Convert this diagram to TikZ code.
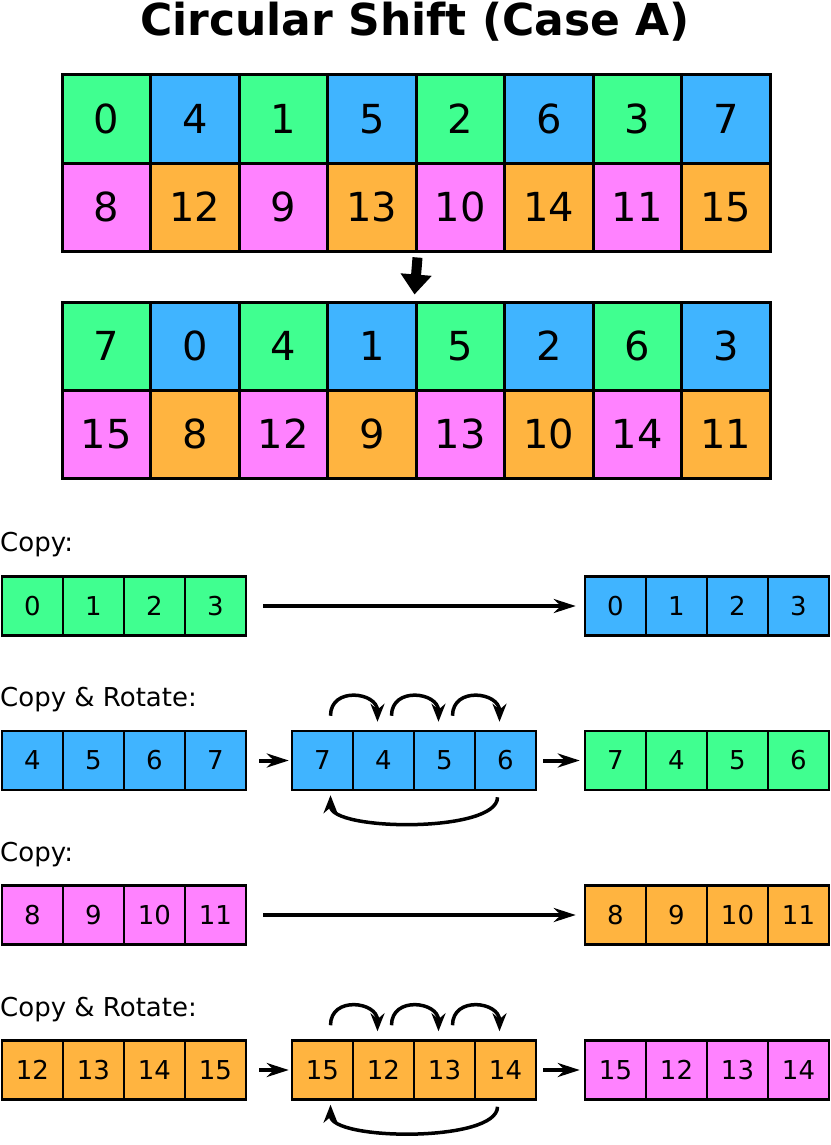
\documentclass[tikz,border=0pt]{standalone}
\usepackage{fontspec}
\setmainfont{DejaVu Sans}
\usetikzlibrary{positioning,arrows.meta,calc}
\definecolor{cgreen}{RGB}{64,255,144}
\definecolor{cblue}{RGB}{64,180,255}
\definecolor{cpink}{RGB}{255,130,255}
\definecolor{corange}{RGB}{255,180,64}
\tikzset{
  cell/.style={draw,line width=3pt,minimum width=88.5pt,minimum height=88pt,inner sep=0pt,font=\fontsize{40}{40}\selectfont},
  scell/.style={draw,line width=2.5pt,minimum width=61pt,minimum height=59pt,inner sep=0pt,font=\fontsize{26}{26}\selectfont},
  lbl/.style={anchor=west,inner sep=0pt,font=\fontsize{26}{26}\selectfont},
  flow/.style={line width=4pt,-{Stealth[length=22pt,width=14pt]}},
  spin/.style={line width=3.5pt,-{Stealth[length=18pt,width=14pt]}}
}
\begin{document}
\begin{tikzpicture}[x=1pt,y=-1pt]
\useasboundingbox (0,0) rectangle (830,1145);
\node[font=\fontsize{44}{44}\selectfont\bfseries] (title) at (415,22) {Circular Shift (Case A)};

% big grids
\foreach \v/\c [count=\i] in {0/cgreen,4/cblue,1/cgreen,5/cblue,2/cgreen,6/cblue,3/cgreen,7/cblue}
  \node[cell,fill=\c] (a\i) at ({62+88.5*(\i-0.5)},119) {\v};
\foreach \v/\c [count=\i] in {8/cpink,12/corange,9/cpink,13/corange,10/cpink,14/corange,11/cpink,15/corange}
  \node[cell,fill=\c] (b\i) at ({62+88.5*(\i-0.5)},207) {\v};
\foreach \v/\c [count=\i] in {7/cgreen,0/cblue,4/cgreen,1/cblue,5/cgreen,2/cblue,6/cgreen,3/cblue}
  \node[cell,fill=\c] (c\i) at ({62+88.5*(\i-0.5)},346) {\v};
\foreach \v/\c [count=\i] in {15/cpink,8/corange,12/cpink,9/corange,13/cpink,10/corange,14/cpink,11/corange}
  \node[cell,fill=\c] (d\i) at ({62+88.5*(\i-0.5)},434) {\v};
\draw[line width=10pt,-{Triangle[length=20pt,width=30pt]}] ($(b4.south east)+(0,5)$) -- ($(c5.north west)+(0,-6)$);

% Copy: row 1
\node[lbl] (copyA) at (0,545) {Copy:};
\foreach \v [count=\i] in {0,1,2,3}{
  \node[scell,fill=cgreen] (p\i) at ({2+61*(\i-0.5)},606) {\v};
  \node[scell,fill=cblue] (q\i) at ({585+61*(\i-0.5)},606) {\v};
}
\draw[flow] ($(p4.east)+(16,0)$) -- ($(q1.west)+(-8,0)$);

% Copy & Rotate: row 2
\node[lbl] (rotA) at (0,700) {Copy \& Rotate:};
\foreach \v/\w [count=\i] in {4/7,5/4,6/5,7/6}{
  \node[scell,fill=cblue] (e\i) at ({2+61*(\i-0.5)},760.5) {\v};
  \node[scell,fill=cblue] (f\i) at ({292+61*(\i-0.5)},760.5) {\w};
  \node[scell,fill=cgreen] (g\i) at ({585+61*(\i-0.5)},760.5) {\w};
}
\draw[flow] ($(e4.east)+(12,0)$) -- ($(f1.west)+(-2,0)$);
\draw[flow] ($(f4.east)+(6,0)$) -- ($(g1.west)+(-4,0)$);
\foreach \i/\j in {1/2,2/3,3/4}
  \draw[spin] ($(f\i.north)+(8,-14)$) to[out=90,in=90,looseness=1.6] ($(f\j.north)+(-6,-8)$);
\draw[spin] ($(f4.south)+(-8,6)$) to[out=-90,in=-90,looseness=0.55] ($(f1.south)+(8,4)$);

% Copy: row 3
\node[lbl] (copyB) at (0,855) {Copy:};
\foreach \v [count=\i] in {8,9,10,11}{
  \node[scell,fill=cpink] (h\i) at ({2+61*(\i-0.5)},915) {\v};
  \node[scell,fill=corange] (k\i) at ({585+61*(\i-0.5)},915) {\v};
}
\draw[flow] ($(h4.east)+(16,0)$) -- ($(k1.west)+(-8,0)$);

% Copy & Rotate: row 4
\node[lbl] (rotB) at (0,1010) {Copy \& Rotate:};
\foreach \v/\w [count=\i] in {12/15,13/12,14/13,15/14}{
  \node[scell,fill=corange] (m\i) at ({2+61*(\i-0.5)},1070) {\v};
  \node[scell,fill=corange] (n\i) at ({292+61*(\i-0.5)},1070) {\w};
  \node[scell,fill=cpink] (o\i) at ({585+61*(\i-0.5)},1070) {\w};
}
\draw[flow] ($(m4.east)+(12,0)$) -- ($(n1.west)+(-2,0)$);
\draw[flow] ($(n4.east)+(6,0)$) -- ($(o1.west)+(-4,0)$);
\foreach \i/\j in {1/2,2/3,3/4}
  \draw[spin] ($(n\i.north)+(8,-14)$) to[out=90,in=90,looseness=1.6] ($(n\j.north)+(-6,-8)$);
\draw[spin] ($(n4.south)+(-8,6)$) to[out=-90,in=-90,looseness=0.55] ($(n1.south)+(8,4)$);
\end{tikzpicture}
\end{document}
